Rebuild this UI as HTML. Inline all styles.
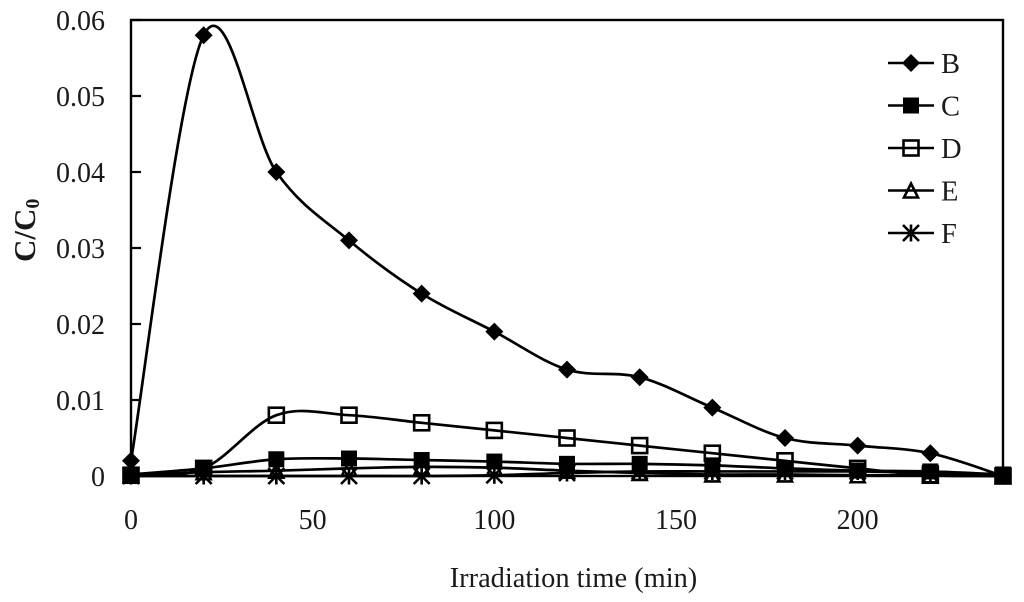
<!DOCTYPE html>
<html lang="en">
<head>
<meta charset="utf-8">
<title>C/C0 vs irradiation time</title>
<style>
  html, body { margin: 0; padding: 0; background: #fff; width: 1024px; height: 602px; overflow: hidden; }
  svg { display: block; }
  text { font-family: "Liberation Serif", "Times New Roman", serif; fill: #1a1a1a; }
</style>
</head>
<body>
<svg id="chart" xmlns="http://www.w3.org/2000/svg" width="1024" height="602" viewBox="0 0 1024 602">
  <rect x="0" y="0" width="1024" height="602" fill="#fff"/>
  <g id="axes"></g>
  <g id="series"></g>
  <g id="legend"></g>
  <text x="573.5" y="587" font-size="28.4" text-anchor="middle">Irradiation time (min)</text>
  <text transform="translate(35,262) rotate(-90)" font-size="31" font-weight="bold">C/C<tspan font-size="20" dy="4">0</tspan></text>
</svg>
<script>
const times = [0, 20, 40, 60, 80, 100, 120, 140, 160, 180, 200, 220, 240];
const seriesB = [0.002, 0.058, 0.04, 0.031, 0.024, 0.019, 0.014, 0.013, 0.009, 0.005, 0.004, 0.003, 0];
const seriesC = [0.0002, 0.001, 0.0022, 0.0023, 0.0021, 0.0019, 0.0016, 0.0016, 0.0014, 0.001, 0.0007, 0.0006, 0.0002];
const seriesD = [0.0001, 0.001, 0.008, 0.008, 0.007, 0.006, 0.005, 0.004, 0.003, 0.002, 0.001, 0.0001, 0];
const seriesE = [0.0001, 0.0005, 0.0007, 0.001, 0.0012, 0.0011, 0.0007, 0.0004, 0.0002, 0.0002, 0.0001, 0.0001, 0];
const seriesF = [0, 0, 0, 0, 0, 0.0001, 0.0004, 0.0006, 0.0006, 0.0006, 0.0006, 0.0004, 0];
const seriesNames = ['B', 'C', 'D', 'E', 'F'];
const xTickLabels = [0, 50, 100, 150, 200];
const yTickLabels = [0, 0.01, 0.02, 0.03, 0.04, 0.05, 0.06];

const NS = 'http://www.w3.org/2000/svg';
const plot = { left: 131, right: 1003, top: 20, bottom: 476 };
const xMax = 240;
const yMax = 0.06;
const xScale = function (v) { return plot.left + (v / xMax) * (plot.right - plot.left); };
const yScale = function (v) { return plot.bottom - (v / yMax) * (plot.bottom - plot.top); };

function make(tag, attrs, parent) {
  const el = document.createElementNS(NS, tag);
  for (const k in attrs) el.setAttribute(k, attrs[k]);
  parent.appendChild(el);
  return el;
}

const axes = document.getElementById('axes');
const seriesLayer = document.getElementById('series');
const legend = document.getElementById('legend');

const frame = make('rect', { x: plot.left, y: plot.top, width: plot.right - plot.left, height: plot.bottom - plot.top, fill: 'none', stroke: '#000', 'stroke-width': 2.4 }, axes);



yTickLabels.forEach(function (v) {
  const y = yScale(v);
  const tick = make('line', { x1: plot.left, x2: plot.left + 10, y1: y, y2: y, stroke: '#000', 'stroke-width': 2.2 }, axes);
  
  
  const label = make('text', { x: 105, y: y + 10, 'font-size': 28, 'text-anchor': 'end' }, axes);
  
  
  label.textContent = String(v);
});

xTickLabels.forEach(function (v) {
  const label = make('text', { x: xScale(v), y: 529, 'font-size': 28, 'text-anchor': 'middle' }, axes);
  
  
  label.textContent = String(v);
});

function smoothPath(values) {
  const pts = values.map(function (v, i) { return [xScale(times[i]), yScale(v)]; });
  let d = 'M' + pts[0][0] + ' ' + pts[0][1];
  for (let i = 0; i < pts.length - 1; i++) {
    const p0 = pts[Math.max(i - 1, 0)];
    const p1 = pts[i];
    const p2 = pts[i + 1];
    const p3 = pts[Math.min(i + 2, pts.length - 1)];
    const c1x = p1[0] + (p2[0] - p0[0]) / 6;
    const c1y = p1[1] + (p2[1] - p0[1]) / 6;
    const c2x = p2[0] - (p3[0] - p1[0]) / 6;
    const c2y = p2[1] - (p3[1] - p1[1]) / 6;
    d += ' C' + c1x + ' ' + c1y + ' ' + c2x + ' ' + c2y + ' ' + p2[0] + ' ' + p2[1];
  }
  return d;
}

function drawMarker(kind, cx, cy, parent) {
  if (kind === 'B') {
    return make('path', { d: 'M' + cx + ' ' + (cy - 9) + 'L' + (cx + 9) + ' ' + cy + 'L' + cx + ' ' + (cy + 9) + 'L' + (cx - 9) + ' ' + cy + 'Z', fill: '#000' }, parent);
  }
  if (kind === 'C') {
    return make('rect', { x: cx - 8, y: cy - 8, width: 16, height: 16, fill: '#000' }, parent);
  }
  if (kind === 'D') {
    return make('rect', { x: cx - 7.5, y: cy - 7.5, width: 15, height: 15, fill: 'none', stroke: '#000', 'stroke-width': 2.6 }, parent);
  }
  if (kind === 'E') {
    return make('path', { d: 'M' + cx + ' ' + (cy - 7) + 'L' + (cx + 7) + ' ' + (cy + 7) + 'L' + (cx - 7) + ' ' + (cy + 7) + 'Z', fill: 'none', stroke: '#000', 'stroke-width': 2.6 }, parent);
  }
  return make('path', { d: 'M' + (cx - 8) + ' ' + (cy - 8) + 'L' + (cx + 8) + ' ' + (cy + 8) + 'M' + (cx + 8) + ' ' + (cy - 8) + 'L' + (cx - 8) + ' ' + (cy + 8) + 'M' + cx + ' ' + (cy - 8.5) + 'L' + cx + ' ' + (cy + 8.5), fill: 'none', stroke: '#000', 'stroke-width': 2.6 }, parent);
}

const allSeries = [seriesB, seriesC, seriesD, seriesE, seriesF];

allSeries.forEach(function (values, s) {
  const kind = seriesNames[s];
  const group = make('g', {}, seriesLayer);
  
  
  const line = make('path', { d: smoothPath(values), fill: 'none', stroke: '#000', 'stroke-width': 2.7 }, group);
  
  
  values.forEach(function (v, i) {
    const marker = drawMarker(kind, xScale(times[i]), yScale(v), group);
    
    
  });
});

const legendRowTop = 63;
const legendRowGap = 42.5;
seriesNames.forEach(function (name, i) {
  const y = legendRowTop + i * legendRowGap;
  const entry = make('g', {}, legend);
  
  
  const swatch = make('line', { x1: 888, x2: 934, y1: y, y2: y, stroke: '#000', 'stroke-width': 2.6 }, entry);
  
  
  const marker = drawMarker(name, 911, y, entry);
  
  
  const label = make('text', { x: 941, y: y + 10, 'font-size': 28.5 }, entry);
  
  
  label.textContent = name;
});
</script>
</body>
</html>
